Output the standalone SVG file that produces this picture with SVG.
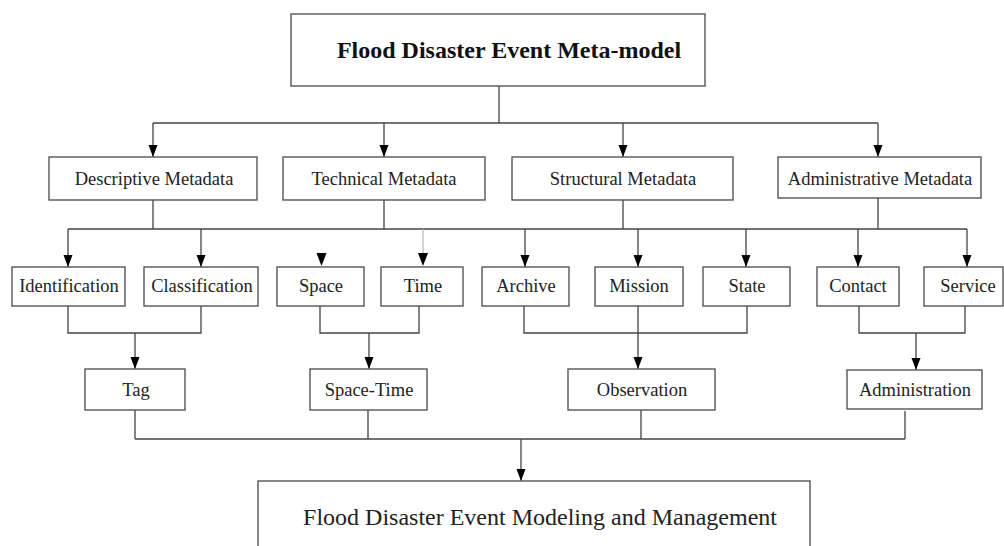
<svg xmlns="http://www.w3.org/2000/svg" width="1004" height="546" viewBox="0 0 1004 546">
<defs>
<style>
.box{fill:#fff;stroke:#555;stroke-width:1.4}
.t{font-family:"Liberation Serif","Times New Roman",serif;font-size:18.5px;fill:#222;text-anchor:middle}
.title{font-family:"Liberation Serif","Times New Roman",serif;font-size:24px;font-weight:bold;fill:#111;text-anchor:middle}
.big{font-family:"Liberation Serif","Times New Roman",serif;font-size:24px;fill:#222;text-anchor:middle}
.c{fill:none;stroke:#444;stroke-width:1.3}
.a{fill:none;stroke:#444;stroke-width:1.3;marker-end:url(#arr)}
.ah{fill:#000}
</style>
<marker id="arr" markerUnits="userSpaceOnUse" markerWidth="12" markerHeight="14" refX="12" refY="4.5" orient="auto" viewBox="0 0 12 9">
<path d="M0,0 L12,4.5 L0,9 z" fill="#000"/>
</marker>
</defs>

<g id="connectors">
<!-- top to level 1 -->
<path class="c" d="M499,86 V123 M153,123 H878"/>
<path class="a" d="M153,123 V157"/>
<path class="a" d="M384,123 V157"/>
<path class="a" d="M623,123 V157"/>
<path class="a" d="M878,123 V157"/>
<!-- level 1 to level 2 -->
<path class="c" d="M153,200 V229 M384,200 V229 M623,200 V229 M878,198 V229 M68,229 H967"/>
<path class="a" d="M68,229 V267"/>
<path class="a" d="M201,229 V267"/>
<polygon class="ah" points="316.5,253 326.5,253 321.5,266"/>
<path d="M423,229 V255" fill="none" stroke="#bbb" stroke-width="1.3"/>
<polygon class="ah" points="418,253 428,253 423,266"/>
<path class="a" d="M525,229 V267"/>
<path class="a" d="M638,229 V267"/>
<path class="a" d="M746,229 V267"/>
<path class="a" d="M858,229 V267"/>
<path class="a" d="M967,229 V267"/>
<!-- level 2 to level 3 -->
<path class="c" d="M68,306 V333 H201 V306"/>
<path class="a" d="M135,333 V369"/>
<path class="c" d="M320,306 V333 H419 V306"/>
<path class="a" d="M369,333 V369"/>
<path class="c" d="M524,306 V333 H747 V306"/>
<path class="a" d="M638,306 V369"/>
<path class="c" d="M859,306 V333 H965 V306"/>
<path class="a" d="M916,333 V370"/>
<!-- level 3 to bottom -->
<path class="c" d="M135,410 V439 M368,410 V439 M641,410 V439 M905,411 V439 M135,439 H905"/>
<path class="a" d="M521,439 V481"/>
</g>

<g id="node-root">
<rect class="box" x="291" y="14" width="414" height="72"/>
<text class="title" x="509" y="58">Flood Disaster Event Meta-model</text>
</g>

<g id="node-descriptive">
<rect class="box" x="49" y="157" width="208" height="43"/>
<text class="t" x="154" y="185">Descriptive Metadata</text>
</g>
<g id="node-technical">
<rect class="box" x="283" y="157" width="202" height="43"/>
<text class="t" x="384" y="185">Technical Metadata</text>
</g>
<g id="node-structural">
<rect class="box" x="512" y="157" width="221" height="43"/>
<text class="t" x="623" y="185">Structural Metadata</text>
</g>
<g id="node-administrative">
<rect class="box" x="778" y="157" width="203" height="41"/>
<text class="t" x="880" y="185">Administrative Metadata</text>
</g>

<g id="node-identification">
<rect class="box" x="12" y="267" width="113" height="39"/>
<text class="t" x="69" y="292">Identification</text>
</g>
<g id="node-classification">
<rect class="box" x="144" y="267" width="114" height="39"/>
<text class="t" x="202" y="292">Classification</text>
</g>
<g id="node-space">
<rect class="box" x="277" y="267" width="87" height="39"/>
<text class="t" x="321" y="292">Space</text>
</g>
<g id="node-time">
<rect class="box" x="381" y="267" width="82" height="39"/>
<text class="t" x="423" y="292">Time</text>
</g>
<g id="node-archive">
<rect class="box" x="482" y="267" width="87" height="39"/>
<text class="t" x="526" y="292">Archive</text>
</g>
<g id="node-mission">
<rect class="box" x="595" y="267" width="88" height="39"/>
<text class="t" x="639" y="292">Mission</text>
</g>
<g id="node-state">
<rect class="box" x="703" y="267" width="87" height="39"/>
<text class="t" x="747" y="292">State</text>
</g>
<g id="node-contact">
<rect class="box" x="817" y="267" width="82" height="39"/>
<text class="t" x="858" y="292">Contact</text>
</g>
<g id="node-service">
<rect class="box" x="924" y="267" width="79" height="39"/>
<text class="t" x="968" y="292">Service</text>
</g>

<g id="node-tag">
<rect class="box" x="85" y="369" width="100" height="41"/>
<text class="t" x="136" y="396">Tag</text>
</g>
<g id="node-spacetime">
<rect class="box" x="310" y="369" width="117" height="41"/>
<text class="t" x="369" y="396">Space-Time</text>
</g>
<g id="node-observation">
<rect class="box" x="568" y="369" width="147" height="41"/>
<text class="t" x="642" y="396">Observation</text>
</g>
<g id="node-administration">
<rect class="box" x="847" y="370" width="135" height="39"/>
<text class="t" x="915" y="396">Administration</text>
</g>

<g id="node-bottom">
<rect class="box" x="258" y="481" width="552" height="80"/>
<text class="big" x="540" y="525">Flood Disaster Event Modeling and Management</text>
</g>
</svg>
